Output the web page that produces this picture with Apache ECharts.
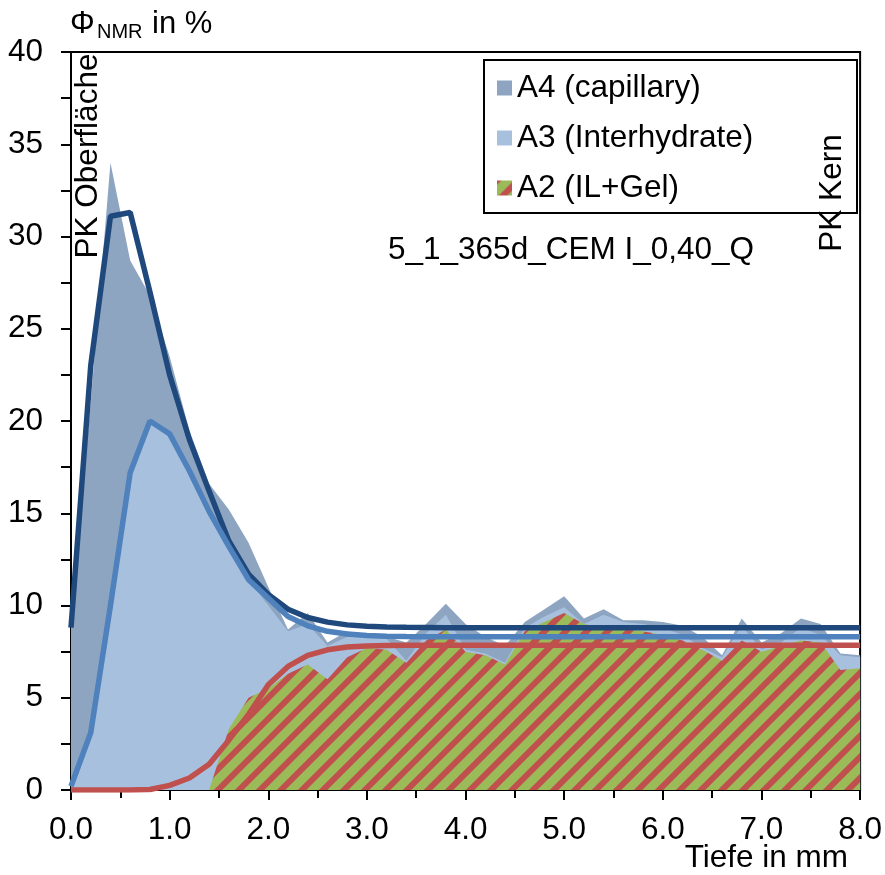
<!DOCTYPE html>
<html>
<head>
<meta charset="utf-8">
<script src="https://cdn.jsdelivr.net/npm/echarts@6/dist/echarts.min.js"></script>
<style>
html,body{margin:0;padding:0;background:#fff;}
#chart{width:885px;height:875px;}
</style>
</head>
<body>
<div id="chart"></div>
<script>
// ---- data ----
const depth = [0.0,0.2,0.4,0.6,0.8,1.0,1.2,1.4,1.6,1.8,2.0,2.2,2.4,2.6,2.8,3.0,3.2,3.4,3.6,3.8,4.0,
               4.2,4.4,4.6,4.8,5.0,5.2,5.4,5.6,5.8,6.0,6.2,6.4,6.6,6.8,7.0,7.2,7.4,7.6,7.8,8.0];
const a4Capillary = [9.5,21.0,34.0,28.7,26.8,23.5,19.5,16.6,15.2,13.4,11.0,8.7,9.6,8.0,8.6,8.4,8.3,8.0,9.0,10.1,9.0,
                     8.3,7.8,9.1,9.8,10.5,9.3,9.8,9.2,9.2,9.1,8.9,8.3,7.3,9.3,8.0,8.5,9.3,9.0,7.4,7.3];
const a3Interhydrate = [0.0,3.0,10.0,17.3,20.0,19.4,17.5,15.3,13.2,11.4,10.0,8.6,9.0,7.8,8.3,8.3,8.2,7.0,8.5,9.5,7.6,
                        7.4,6.9,8.8,9.4,9.9,9.0,9.5,9.1,9.0,8.8,8.4,7.7,7.2,8.9,7.6,8.0,8.8,8.4,7.3,7.2];
const a2ILGel = [0,0,0,0,0,0,0,0,3.3,5.0,5.5,6.3,6.8,6.0,7.2,7.7,7.6,6.9,8.1,8.7,7.5,
                 7.3,6.8,8.6,9.1,9.6,9.0,8.8,8.7,8.6,8.4,8.1,7.6,7.0,8.1,7.5,7.8,8.1,8.0,6.5,6.6];
const fitA4 = [8.8,23.0,31.1,31.3,27.0,22.5,19.0,16.2,13.5,11.7,10.6,9.8,9.35,9.1,8.95,8.88,8.84,8.82,8.81,8.8,8.8,
               8.8,8.8,8.8,8.8,8.8,8.8,8.8,8.8,8.8,8.8,8.8,8.8,8.8,8.8,8.8,8.8,8.8,8.8,8.8,8.8];
const fitA3 = [0.2,3.1,10.0,17.2,20.0,19.3,17.3,15.1,13.2,11.4,10.4,9.4,8.9,8.6,8.45,8.38,8.34,8.32,8.31,8.3,8.3,
               8.3,8.3,8.3,8.3,8.3,8.3,8.3,8.3,8.3,8.3,8.3,8.3,8.3,8.3,8.3,8.3,8.3,8.3,8.3,8.3];
const fitA2 = [0,0,0,0,0.03,0.25,0.65,1.4,2.7,4.1,5.7,6.7,7.3,7.6,7.75,7.8,7.83,7.84,7.85,7.85,7.85,
               7.85,7.85,7.85,7.85,7.85,7.85,7.85,7.85,7.85,7.85,7.85,7.85,7.85,7.85,7.85,7.85,7.85,7.85,7.85,7.85];
const legendNames = ['A4 (capillary)','A3 (Interhydrate)','A2 (IL+Gel)'];

// ---- styles ----
const FONT = '"Liberation Sans", Arial, sans-serif';
const FS = 31.5;
const C_A4 = '#8EA5C1', C_A3 = '#A7C0DE', C_GREEN = '#9BBB59', C_RED = '#C0504D';
const C_DARK = '#1F497D', C_MED = '#4F81BD';

function makeHatch(){
  const P = 21;
  const c = document.createElement('canvas');
  c.width = P; c.height = P;
  const g = c.getContext('2d');
  g.fillStyle = C_GREEN; g.fillRect(0,0,P,P);
  g.strokeStyle = C_RED; g.lineWidth = 6;
  for (const k of [0, P, 2*P]) {
    g.beginPath(); g.moveTo(k+6, -6); g.lineTo(k-P-6, P+6); g.stroke();
  }
  return c;
}
const hatch = {image: makeHatch(), repeat: 'repeat'};

function pairs(ys){ return depth.map((x,i)=>[x, ys[i]]); }

function areaSeries(name, ys, fill){
  return {name, type:'line', data: pairs(ys), showSymbol:false, symbol:'none',
    lineStyle:{width:0, opacity:0}, areaStyle:{color: fill, opacity:1},
    itemStyle:{color: typeof fill === 'string' ? fill : C_GREEN}, emphasis:{disabled:true}, silent:true};
}
function fitSeries(name, ys, color){
  return {name, type:'line', data: pairs(ys), showSymbol:false, symbol:'none',
    lineStyle:{width:5.5, color}, itemStyle:{color}, emphasis:{disabled:true}, silent:true};
}

const chart = echarts.init(document.getElementById('chart'), null, {renderer:'canvas'});
chart.setOption({
  animation:false,
  backgroundColor:'#fff',
  grid:{left:71, right:24, top:52, bottom:85, show:true, borderColor:'#000', borderWidth:2, backgroundColor:'transparent'},
  xAxis:{type:'value', min:0, max:8, interval:1,
    axisLine:{show:true, onZero:false, lineStyle:{color:'#000', width:2}},
    axisTick:{show:true, inside:false, length:10, lineStyle:{color:'#000', width:2}},
    minorTick:{show:true, splitNumber:2, length:8, lineStyle:{color:'#000', width:2}},
    splitLine:{show:false},
    axisLabel:{formatter:(v)=>v.toFixed(1), fontSize:FS, fontFamily:FONT, color:'#000', margin:24}},
  yAxis:{type:'value', min:0, max:40, interval:5,
    axisLine:{show:true, lineStyle:{color:'#000', width:2}},
    axisTick:{show:true, inside:false, length:10, lineStyle:{color:'#000', width:2}},
    minorTick:{show:true, splitNumber:2, length:10, lineStyle:{color:'#000', width:2}},
    splitLine:{show:false},
    axisLabel:{fontSize:FS, fontFamily:FONT, color:'#000', margin:28}},
  legend:{orient:'vertical', left:497, top:72, padding:0, itemGap:18, itemWidth:15, itemHeight:15,
    icon:'rect', selectedMode:false,
    textStyle:{fontSize:FS, fontFamily:FONT, color:'#000'},
    data:[
      {name:legendNames[0], itemStyle:{color:C_A4}},
      {name:legendNames[1], itemStyle:{color:C_A3}},
      {name:legendNames[2], itemStyle:{color:hatch}}
    ]},
  series:[
    areaSeries(legendNames[0], a4Capillary, C_A4),
    areaSeries(legendNames[1], a3Interhydrate, C_A3),
    areaSeries(legendNames[2], a2ILGel, hatch),
    fitSeries('fit A4', fitA4, C_DARK),
    fitSeries('fit A3', fitA3, C_MED),
    fitSeries('fit A2', fitA2, C_RED)
  ],
  graphic:[
    {type:'rect', shape:{x:484, y:60, width:373, height:153}, style:{fill:'none', stroke:'#000', lineWidth:2}, z:10},
    {type:'text', x:70, y:24, style:{text:'Φ', font:'31px '+FONT, fill:'#000', textAlign:'left', textVerticalAlign:'middle'}, z:10},
    {type:'text', x:97, y:32, style:{text:'NMR', font:'20px '+FONT, fill:'#000', textAlign:'left', textVerticalAlign:'middle'}, z:10},
    {type:'text', x:152, y:24, style:{text:'in %', font:'31px '+FONT, fill:'#000', textAlign:'left', textVerticalAlign:'middle'}, z:10},
    {type:'text', x:88, y:156, rotation:Math.PI/2, style:{text:'PK Oberfläche', font:FS+'px '+FONT, fill:'#000', textAlign:'center', textVerticalAlign:'middle'}, z:10},
    {type:'text', x:832, y:193, rotation:Math.PI/2, style:{text:'PK Kern', font:FS+'px '+FONT, fill:'#000', textAlign:'center', textVerticalAlign:'middle'}, z:10},
    {type:'text', x:388, y:250, style:{text:'5_1_365d_CEM I_0,40_Q', font:FS+'px '+FONT, fill:'#000', textAlign:'left', textVerticalAlign:'middle'}, z:10},
    {type:'text', x:848, y:858, style:{text:'Tiefe in mm', font:FS+'px '+FONT, fill:'#000', textAlign:'right', textVerticalAlign:'middle'}, z:10}
  ]
});
</script>
</body>
</html>
